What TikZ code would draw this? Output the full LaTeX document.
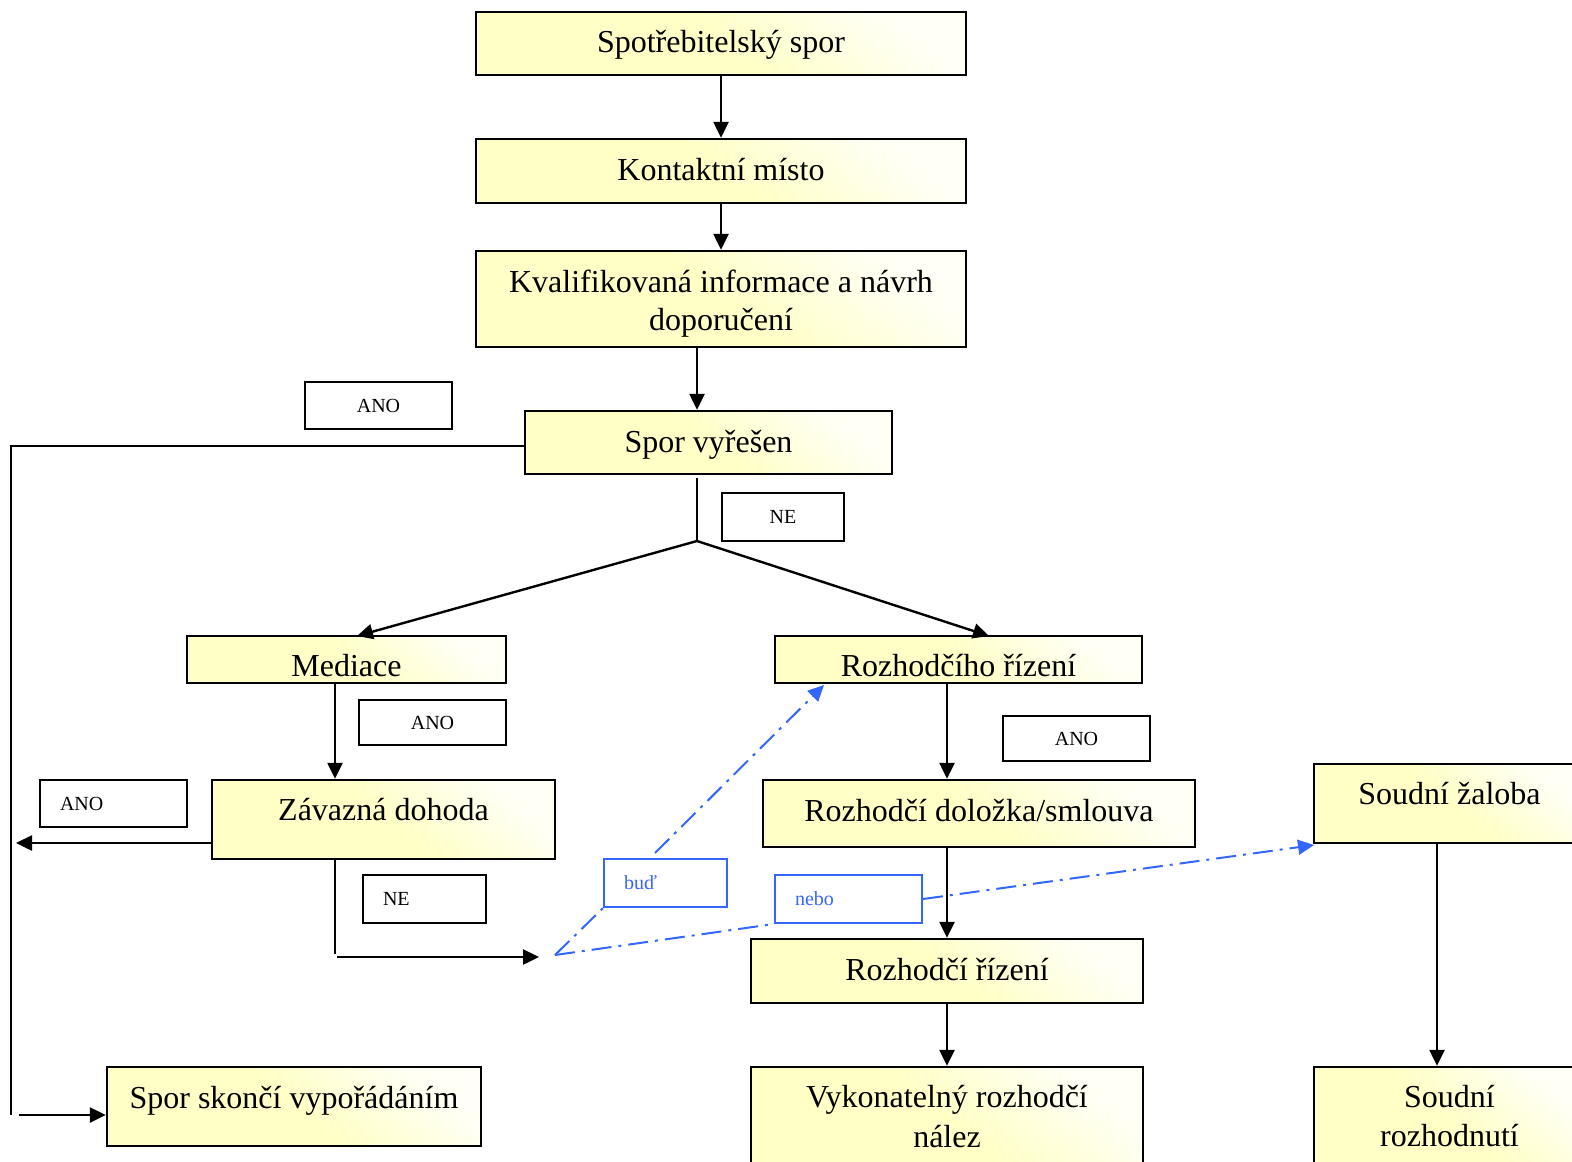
\documentclass[tikz,border=0pt]{standalone}
\usepackage{fontspec}
\setmainfont{Liberation Serif}
\usetikzlibrary{arrows.meta}
\definecolor{yel}{RGB}{255,255,198}
\definecolor{blu}{RGB}{51,102,255}
\tikzset{
  box/.style={draw, line width=1.2pt, inner sep=0pt, top color=yel!15!white, bottom color=yel, middle color=yel, shading angle=-40},
  maintxt/.style={inner sep=0pt, anchor=base, font=\fontsize{16}{19.5}\selectfont},
  lab/.style={draw, line width=1pt, fill=white, inner sep=0pt, font=\fontsize{10}{12}\selectfont},
  leftlab/.style={lab, inner xsep=10pt, align=left},
  bluelab/.style={leftlab, draw=blu, text=blu},
  tip/.style={-{Triangle[length=8pt,width=7.5pt]}},
  conn/.style={line width=1.2pt, tip},
  plain/.style={line width=1.2pt},
  blueconn/.style={blu, line width=1pt, dash pattern=on 10pt off 3.5pt on 1.5pt off 3.5pt},
}
\begin{document}
\begin{tikzpicture}[x=0.5pt,y=-0.5pt]
\useasboundingbox (0,0) rectangle (1572,1161);
% main boxes
\node[box, minimum width=245pt, minimum height=31.5pt] (b1) at (721,43.5) {};
\node[maintxt] (t1) at (721,53) {Spotřebitelský spor};
\node[box, minimum width=245pt, minimum height=32pt] (b2) at (721,171) {};
\node[maintxt] (t2) at (721,180.5) {Kontaktní místo};
\node[box, minimum width=245pt, minimum height=48pt] (b3) at (721,299) {};
\node[maintxt] (t3a) at (721,292) {Kvalifikovaná informace a návrh};
\node[maintxt] (t3b) at (721,330) {doporučení};
\node[box, minimum width=183.5pt, minimum height=31.5pt] (b4) at (708.5,442.5) {};
\node[maintxt] (t4) at (708.5,452) {Spor vyřešen};
\node[box, minimum width=159.5pt, minimum height=23.5pt] (med) at (346.5,659.5) {};
\node[maintxt] (tmed) at (346.5,676) {Mediace};
\node[box, minimum width=183.5pt, minimum height=23.5pt] (roz) at (958.5,659.5) {};
\node[maintxt] (troz) at (958.5,676) {Rozhodčího řízení};
\node[box, minimum width=171.5pt, minimum height=39.5pt] (zav) at (383.5,819.5) {};
\node[maintxt] (tzav) at (383.5,820) {Závazná dohoda};
\node[box, minimum width=216pt, minimum height=33.5pt] (dol) at (979,813.5) {};
\node[maintxt] (tdol) at (979,821) {Rozhodčí doložka/smlouva};
\node[box, minimum width=135.5pt, minimum height=39.5pt] (zal) at (1449.5,803.5) {};
\node[maintxt] (tzal) at (1449.5,804) {Soudní žaloba};
\node[box, minimum width=196pt, minimum height=32pt] (rr) at (947,971) {};
\node[maintxt] (trr) at (947,980) {Rozhodčí řízení};
\node[box, minimum width=187pt, minimum height=39.5pt] (sk) at (294,1106.5) {};
\node[maintxt] (tsk) at (294,1108) {Spor skončí vypořádáním};
\node[box, minimum width=196pt, minimum height=54pt] (vyk) at (947,1121) {};
\node[maintxt] (tvyka) at (947,1107) {Vykonatelný rozhodčí};
\node[maintxt] (tvykb) at (947,1147) {nález};
\node[box, minimum width=135.5pt, minimum height=54pt] (sr) at (1449.5,1121) {};
\node[maintxt] (tsra) at (1449.5,1107) {Soudní};
\node[maintxt] (tsrb) at (1449.5,1146) {rozhodnutí};
% labels
\node[lab, minimum width=73.5pt, minimum height=23.5pt] (l1) at (378.5,405.5) {ANO};
\node[lab, minimum width=61pt, minimum height=24pt] (l2) at (783,517) {NE};
\node[lab, minimum width=73.5pt, minimum height=22.5pt] (l3) at (432.5,722.5) {ANO};
\node[lab, minimum width=73.5pt, minimum height=22.5pt] (l4) at (1076.5,738.5) {ANO};
\node[leftlab, text width=53.5pt, minimum height=23.5pt] (l5) at (113.5,803.5) {ANO};
\node[leftlab, text width=41.5pt, minimum height=24pt] (l6) at (424.5,899) {NE};
\node[bluelab, text width=41.5pt, minimum height=24pt] (bud) at (665.5,883) {buď};
\node[bluelab, text width=53.5pt, minimum height=24pt] (nebo) at (848.5,899) {nebo};
% helper coordinates
\coordinate (xa) at (697,0);
\coordinate (sx) at (697,541);
\coordinate (tl) at (357,636);
\coordinate (tr) at (989,636);
\coordinate (lc1) at (11,446);
\coordinate (lc2) at (11,1115);
\coordinate (lc3) at (19,1115);
\coordinate (xm) at (335,0);
\coordinate (za) at (16,843);
\coordinate (ne1) at (335,954);
\coordinate (ne2) at (337,957);
\coordinate (ne3) at (539,957);
\coordinate (xr) at (947,0);
\coordinate (xs) at (1437,0);
\coordinate (bp) at (555,955);
\coordinate (budtop) at (655,853);
\coordinate (tipb) at (824,685);
\coordinate (tipz) at (1314,845);
% black connectors
\draw[conn] (b1) -- (b2);
\draw[conn] (b2) -- (b3);
\draw[conn] (b3.south -| xa) -- (b4.north -| xa);
\draw[plain] (b4.west |- lc1) -- (lc1) -- (lc2);
\draw[conn] (lc3) -- (sk.west |- lc3);
\draw[plain] ([yshift=-1.5pt]b4.south -| sx) -- (sx);
\draw[conn] (sx) -- (tl);
\draw[conn] (sx) -- (tr);
\draw[conn] (med.south -| xm) -- (zav.north -| xm);
\draw[conn] (zav.west |- za) -- (za);
\draw[plain] (zav.south -| xm) -- (ne1);
\draw[conn] (ne2) -- (ne3);
\draw[conn] (roz.south -| xr) -- (dol.north -| xr);
\draw[conn] (dol.south -| xr) -- (rr.north -| xr);
\draw[conn] (rr) -- (vyk);
\draw[conn] (zal.south -| xs) -- (sr.north -| xs);
% blue connectors
\draw[blueconn] (bp) -- (bud.south west);
\draw[blueconn, tip] (budtop) -- (tipb);
\draw[blueconn] (bp) -- (nebo.south west);
\draw[blueconn, tip] (nebo.east) -- (tipz);
\end{tikzpicture}
\end{document}
